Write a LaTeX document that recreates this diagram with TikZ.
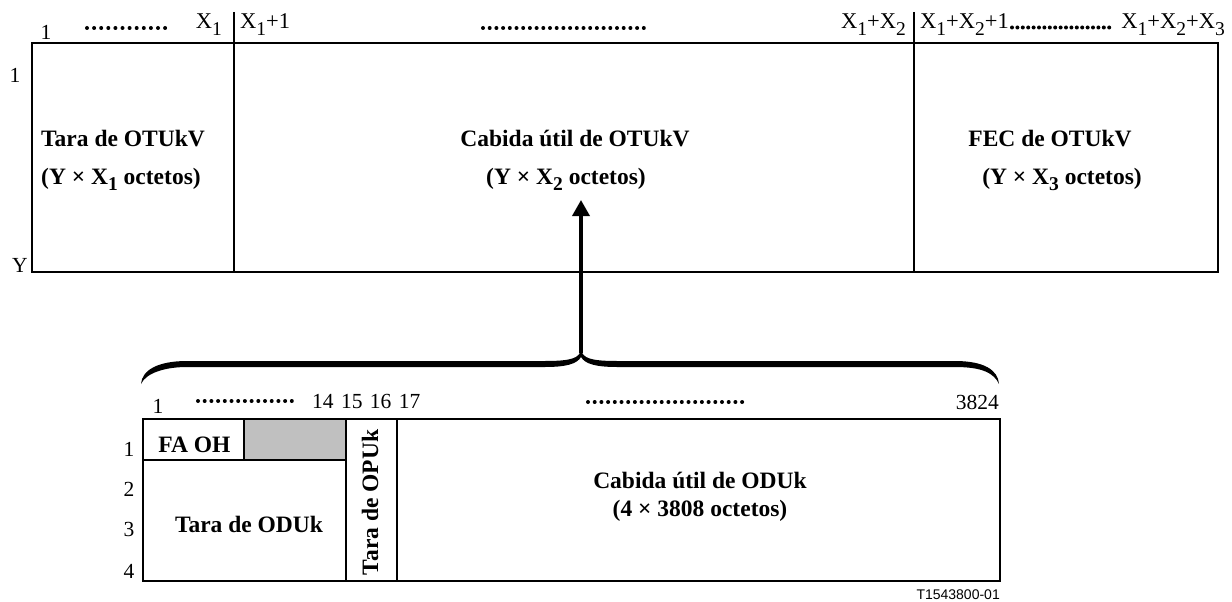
\documentclass[tikz,border=0pt]{standalone}
\usepackage{fontspec}
\setmainfont{Liberation Serif}
\setsansfont{Liberation Sans}
\usetikzlibrary{arrows.meta}
\definecolor{cellgray}{RGB}{192,192,192}
\newcommand\subn[1]{\raisebox{-6.5pt}{\fontsize{19.5}{19.5}\selectfont #1}}
\newcommand\subb[1]{\raisebox{-6.5pt}{\fontsize{19.5}{19.5}\selectfont #1}}
\begin{document}
\begin{tikzpicture}[x=1pt,y=-1pt,
  box/.style={draw,line width=1.3pt},
  lbl/.style={inner sep=0pt,font=\fontsize{21.5}{24}\selectfont},
  tlbl/.style={inner sep=0pt,font=\fontsize{22.5}{24}\selectfont},
  blbl/.style={inner sep=0pt,font=\fontsize{23.5}{26}\selectfont\bfseries},
  dotrow/.style={line width=4pt,line cap=round,dash pattern=on 0pt off #1},
  ]
\useasboundingbox (0,0) rectangle (1232,602);

% ---------- top frame ----------
\draw[box] (32,43) rectangle (1218,272);
\draw[box] (234,12) -- (234,272);
\draw[box] (914,12) -- (914,272);

\node[lbl,anchor=base] (c1) at (46,40) {1};
\draw[dotrow=7.1pt] (87,28) -- (172,28);
\node[tlbl,anchor=base east] (cx1) at (222,29) {X\subn{1}};
\node[tlbl,anchor=base west] (cx1p) at (240,29) {X\subn{1}+1};
\draw[dotrow=6.7pt] (483,28) -- (650,28);
\node[tlbl,anchor=base east] (cx12) at (906,29) {X\subn{1}+X\subn{2}};
\node[tlbl,anchor=base west] (cx12p) at (920,29) {X\subn{1}+X\subn{2}+1};
\draw[dotrow=5.4pt] (1012,27.5) -- (1112,27.5);
\node[tlbl,anchor=base east] (cx123) at (1225,29) {X\subn{1}+X\subn{2}+X\subn{3}};

\node[lbl,anchor=base] (r1) at (15,82) {1};
\node[lbl,anchor=base] (rY) at (20,272) {Y};

\node[blbl,anchor=base west] (t1) at (41,146) {Tara de OTUkV};
\node[blbl,anchor=base west] (t2) at (41,184) {(Y × X\subb{1} octetos)};
\node[blbl,anchor=base] (p1) at (575,146) {Cabida útil de OTUkV};
\node[blbl,anchor=base] (p2) at (566,184) {(Y × X\subb{2} octetos)};
\node[blbl,anchor=base] (f1) at (1050,146) {FEC de OTUkV};
\node[blbl,anchor=base] (f2) at (1062,184) {(Y × X\subb{3} octetos)};

% ---------- brace and arrow ----------
\fill (141,384) .. controls (142,370) and (158,361) .. (187,361) -- (545,361)
  .. controls (572,361) and (579,358) .. (581,350)
  .. controls (583,358) and (590,361) .. (617,361) -- (955,361)
  .. controls (984,361) and (998,370) .. (999,384)
  .. controls (994,373) and (982,367) .. (955,367) -- (617,367)
  .. controls (596,367) and (585,364) .. (581,357)
  .. controls (577,364) and (566,367) .. (545,367) -- (187,367)
  .. controls (165,367) and (146,373) .. (141,384) -- cycle;
\coordinate (bracetip) at (581,353);
\coordinate (arrowtip) at (581,200);
\draw[line width=3.5pt,-{Triangle[width=17pt,length=16pt]}] (bracetip) -- (arrowtip);

% ---------- bottom frame ----------
\fill[cellgray] (244,419) rectangle (346,460);
\draw[box] (143,419) rectangle (1000,581);
\draw[box] (143,460) -- (346,460);
\draw[box] (244,419) -- (244,460);
\draw[box] (346,419) -- (346,581);
\draw[box] (397,419) -- (397,581);

\node[lbl,anchor=base] (b1) at (158,413) {1};
\draw[dotrow=6.7pt] (198,401) -- (297,401);
\node[lbl,anchor=base west] (b14) at (312,408) {14\kern2pt{} 15\kern2pt{} 16\kern2pt{} 17};
\draw[dotrow=6.7pt] (588,402) -- (748,402);
\node[lbl,anchor=base east] (b3824) at (999,409) {3824};

\node[lbl,anchor=base] (br1) at (129,456) {1};
\node[lbl,anchor=base] (br2) at (129,496) {2};
\node[lbl,anchor=base] (br3) at (129,536) {3};
\node[lbl,anchor=base] (br4) at (129,578) {4};

\node[blbl,anchor=base] (fa) at (194.5,452) {FA OH};
\node[blbl,anchor=base] (odu) at (249,532) {Tara de ODUk};
\node[blbl,anchor=base,rotate=90] (opu) at (378,502.5) {Tara de OPUk};
\node[blbl,anchor=base] (cp1) at (700,488) {Cabida útil de ODUk};
\node[blbl,anchor=base] (cp2) at (700,516) {(4 × 3808 octetos)};

\node[inner sep=0pt,anchor=base east,font=\sffamily\fontsize{14}{16}\selectfont] (tag) at (1000,599) {T1543800-01};
\end{tikzpicture}
\end{document}
